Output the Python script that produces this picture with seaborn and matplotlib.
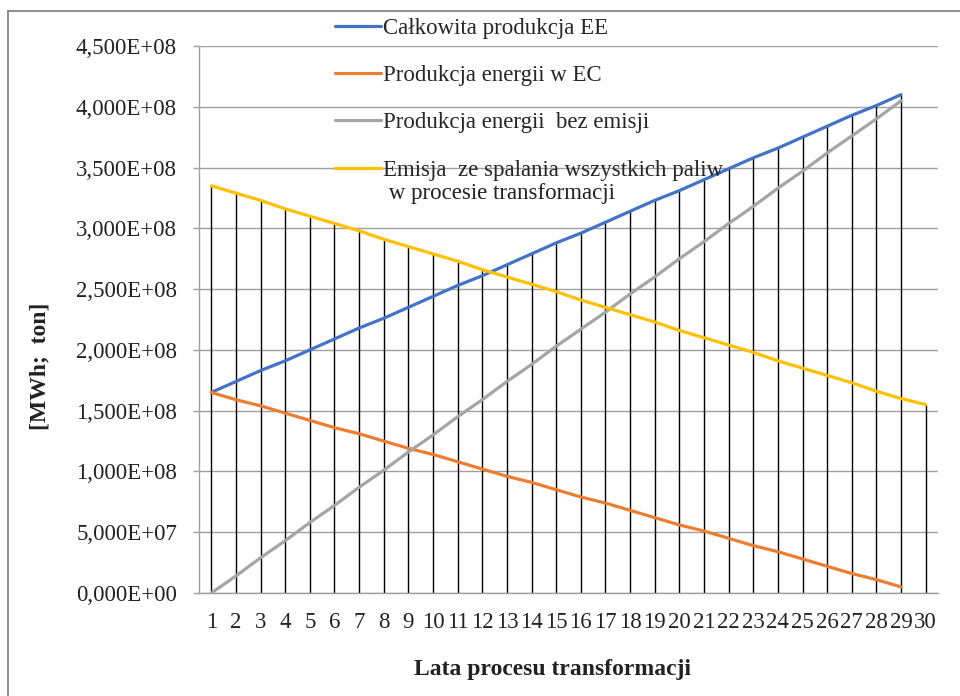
import numpy as np
import pandas as pd
import matplotlib
matplotlib.use("Agg")
import matplotlib.pyplot as plt
import seaborn as sns

# ---- data (values in units of 1e8) ----
years = list(range(1, 31))
calkowita = [1.65, 1.74, 1.83, 1.91, 2.00, 2.09, 2.18, 2.26, 2.35, 2.44, 2.53, 2.61, 2.70, 2.79, 2.88,
             2.96, 3.05, 3.14, 3.23, 3.31, 3.40, 3.49, 3.58, 3.66, 3.75, 3.84, 3.93, 4.01, 4.10]
ec = [1.65, 1.59, 1.54, 1.48, 1.42, 1.36, 1.31, 1.25, 1.19, 1.14, 1.08, 1.02, 0.96, 0.91, 0.85,
      0.79, 0.74, 0.68, 0.62, 0.56, 0.51, 0.45, 0.39, 0.34, 0.28, 0.22, 0.16, 0.11, 0.05]
bez_emisji = [0.00, 0.14, 0.29, 0.43, 0.58, 0.72, 0.87, 1.01, 1.16, 1.30, 1.45, 1.59, 1.74, 1.88, 2.03,
              2.17, 2.31, 2.46, 2.60, 2.75, 2.89, 3.04, 3.18, 3.33, 3.47, 3.62, 3.76, 3.90, 4.05]
emisja = [3.35, 3.29, 3.23, 3.16, 3.10, 3.04, 2.98, 2.91, 2.85, 2.79, 2.73, 2.66, 2.60, 2.54, 2.48,
          2.41, 2.35, 2.29, 2.23, 2.16, 2.10, 2.04, 1.98, 1.91, 1.85, 1.79, 1.73, 1.66, 1.60, 1.55]

labels = ["Całkowita produkcja EE", "Produkcja energii w EC", "Produkcja energii  bez emisji",
          "Emisja  ze spalania wszystkich paliw"]
label_cont = " w procesie transformacji"
colors = ["#4472C4", "#ED7D31", "#A5A5A5", "#FFC000"]
series = [calkowita, ec, bez_emisji, emisja]

rows = []
for lab, vals in zip(labels, series):
    for x, v in zip(years, vals):
        rows.append({"rok": x, "wartosc": v * 1e8, "seria": lab})
df = pd.DataFrame(rows)

sns.set_theme(style="white")
plt.rcParams["font.family"] = ["Liberation Serif", "DejaVu Serif"]

fig = plt.figure(figsize=(9.6, 6.96), dpi=100)
W, H = 960, 696
ax = fig.add_axes([199 / W, 1 - 593 / H, (938 - 199) / W, (593 - 46) / H])

# drop lines from the highest point of each category to the axis
wide = df.pivot(index="rok", columns="seria", values="wartosc").reindex(years)
hi = wide.max(axis=1)
ax.vlines(wide.index, 0, hi, colors="black", linewidth=1.0, zorder=2)

sns.lineplot(data=df, x="rok", y="wartosc", hue="seria", hue_order=labels,
             palette=colors, linewidth=2.3, ax=ax, zorder=3, legend=False)

ax.set_xlim(0.5, 30.5)
ax.set_ylim(0, 4.5e8)
yt = np.arange(0, 4.51e8, 0.5e8)
ax.set_yticks(yt)
ax.set_yticklabels([("%.3E" % v).replace(".", ",") for v in yt], fontsize=16.5)
ax.set_xticks(years)
ax.set_xticklabels([str(y) for y in years], fontsize=16.5)
ax.grid(axis="y", color="#A0A0A0", linewidth=1.0, zorder=0)
ax.set_axisbelow(True)
for s in ["top", "right"]:
    ax.spines[s].set_visible(False)
for s in ["left", "bottom"]:
    ax.spines[s].set_color("#A0A0A0")
    ax.spines[s].set_linewidth(1.0)
ax.tick_params(axis="y", left=True, length=4.3, color="#A0A0A0", width=1.0, pad=11.5, labelcolor="#222222")
ax.tick_params(axis="x", length=0, pad=14, labelcolor="#222222")
ax.set_xlabel("")
ax.set_ylabel("")

# legend (no frame, grid visible through it)
handles = [plt.Line2D([], [], color=c, linewidth=2.3) for c in colors]
leg = fig.legend(handles, labels, loc="upper left", bbox_to_anchor=(335 / W, 1 - 18 / H),
                 frameon=False, fontsize=16.5, handlelength=2.0, handletextpad=0.1,
                 labelspacing=1.14, borderpad=0, borderaxespad=0)

fig.canvas.draw()
bb = leg.get_texts()[3].get_window_extent()
fig.text(bb.x0 / W, (bb.y0 - 2) / H, label_cont, ha="left", va="top",
         fontsize=16.5, color="#222222")

fig.text(553 / W, 1 - 669 / H, "Lata procesu transformacji", ha="center", va="center",
         fontsize=17, fontweight="bold", color="#222222")
fig.text(40 / W, 1 - 366 / H, "[MWh;  ton]", ha="center", va="center", rotation=90,
         fontsize=17, fontweight="bold", color="#222222")

# outer border (left and top)
fig.add_artist(plt.Line2D([8 / W, 8 / W], [0, 1 - 11 / H], color="#7a7a7a", linewidth=1.2))
fig.add_artist(plt.Line2D([8 / W, 1], [1 - 11 / H, 1 - 11 / H], color="#7a7a7a", linewidth=1.2))

fig.savefig("out.png", dpi=100)
